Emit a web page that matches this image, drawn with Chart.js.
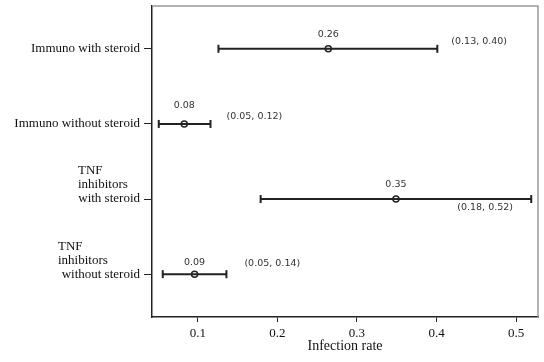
<!DOCTYPE html>
<html>
<head>
<meta charset="utf-8">
<script src="https://cdn.jsdelivr.net/npm/chart.js@4"></script>
<style>
  html, body { margin: 0; padding: 0; background: #fff; }
  #wrap { width: 544px; height: 362px; }
</style>
</head>
<body>
<div id="wrap"><canvas id="forest-chart"></canvas></div>
<script>
// data
const groups = [
  ['Immuno with steroid'],
  ['Immuno without steroid'],
  ['TNF', 'inhibitors', 'with steroid'],
  ['TNF', 'inhibitors', 'without steroid']
];
const rateEst = [0.264, 0.083, 0.349, 0.096];
const lowerCI = [0.126, 0.051, 0.179, 0.056];
const upperCI = [0.401, 0.116, 0.519, 0.136];
const estLabels = ['0.26', '0.08', '0.35', '0.09'];
const ciLabels = ['(0.13, 0.40)', '(0.05, 0.12)', '(0.18, 0.52)', '(0.05, 0.14)'];
const xTicks = [0.1, 0.2, 0.3, 0.4, 0.5];

const ink = '#222';
const numFont = '9.5px "DejaVu Sans"';
const serif = '"Liberation Serif"';

let ctx = document.getElementById('forest-chart').getContext('2d');

// one line per interval, caps drawn as rotated 'line' points
let datasets = groups.map((g, i) => ({
  data: [{x: lowerCI[i], y: i}, {x: upperCI[i], y: i}],
  showLine: true,
  borderColor: ink,
  borderWidth: 2,
  pointStyle: 'line',
  rotation: 90,
  pointRadius: 4,
  pointBorderWidth: 2,
  pointBorderColor: ink
}));
datasets.push({
  data: rateEst.map((v, i) => ({x: v, y: i})),
  pointStyle: 'circle',
  pointRadius: 3,
  pointBorderWidth: 1.5,
  pointBorderColor: ink,
  pointBackgroundColor: '#fff'
});

// label placement (pixels)
const estDy = [-14, -18, -15, -12];
const ciPos = [[14, -7], [16, -7], [-74, 8], [18, -11]];
const groupIndent = [0, 0, 78, 58];

const annotate = {
  id: 'annotate',
  afterDraw(chart) {
    const c = chart.ctx, xs = chart.scales.x, ys = chart.scales.y, a = chart.chartArea;
    c.save();
    // top / right frame in grey
    c.strokeStyle = '#999';
    c.lineWidth = 1.5;
    c.beginPath();
    c.moveTo(a.left, a.top);
    c.lineTo(a.right, a.top);
    c.lineTo(a.right, a.bottom);
    c.stroke();

    c.fillStyle = '#333';
    c.font = numFont;
    c.textBaseline = 'middle';
    groups.forEach((g, i) => {
      const py = ys.getPixelForValue(i);
      c.textAlign = 'center';
      c.fillText(estLabels[i], xs.getPixelForValue(rateEst[i]), py + estDy[i]);
      c.textAlign = 'left';
      c.fillText(ciLabels[i], xs.getPixelForValue(upperCI[i]) + ciPos[i][0], py + ciPos[i][1]);
    });

    // group names on the left
    c.fillStyle = '#111';
    c.font = '13px ' + serif;
    groups.forEach((g, i) => {
      const py = ys.getPixelForValue(i);
      g.forEach((line, k) => {
        const y = py - (g.length - 1 - k) * 14;
        if (k === g.length - 1) {
          c.textAlign = 'right';
          c.fillText(line, a.left - 12, y);
        } else {
          c.textAlign = 'left';
          c.fillText(line, groupIndent[i], y);
        }
      });
    });

    c.font = '14px ' + serif;
    c.textAlign = 'center';
    c.fillText('Infection rate', (a.left + a.right) / 2, 346);
    c.restore();
  }
};

let forestChart = new Chart(ctx, {
  type: 'scatter',
  data: { datasets: datasets },
  options: {
    responsive: true,
    maintainAspectRatio: false,
    animation: false,
    layout: { padding: { top: 5, right: 4, left: 0, bottom: 0 } },
    plugins: {
      legend: { display: false },
      tooltip: { enabled: false }
    },
    scales: {
      x: {
        type: 'linear',
        min: 0.0425,
        max: 0.5275,
        afterBuildTicks: (s) => { s.ticks = xTicks.map(v => ({value: v})); },
        afterFit: (s) => { s.height = 45; },
        border: { color: ink, width: 1.5 },
        grid: { drawOnChartArea: false, tickLength: 5, color: ink, tickWidth: 1 },
        ticks: {
          color: '#111',
          padding: 4,
          font: { family: serif, size: 13 },
          callback: (v) => String(v)
        }
      },
      y: {
        type: 'linear',
        reverse: true,
        min: -0.57,
        max: 3.57,
        afterBuildTicks: (s) => { s.ticks = groups.map((g, i) => ({value: i})); },
        afterFit: (s) => { s.width = 152; s.paddingTop = 0; s.paddingBottom = 0; },
        border: { color: ink, width: 1.5 },
        grid: { drawOnChartArea: false, tickLength: 8, color: ink, tickWidth: 1 },
        ticks: { padding: 0, font: { size: 1 }, callback: () => '' }
      }
    }
  },
  plugins: [annotate]
});
</script>
</body>
</html>
